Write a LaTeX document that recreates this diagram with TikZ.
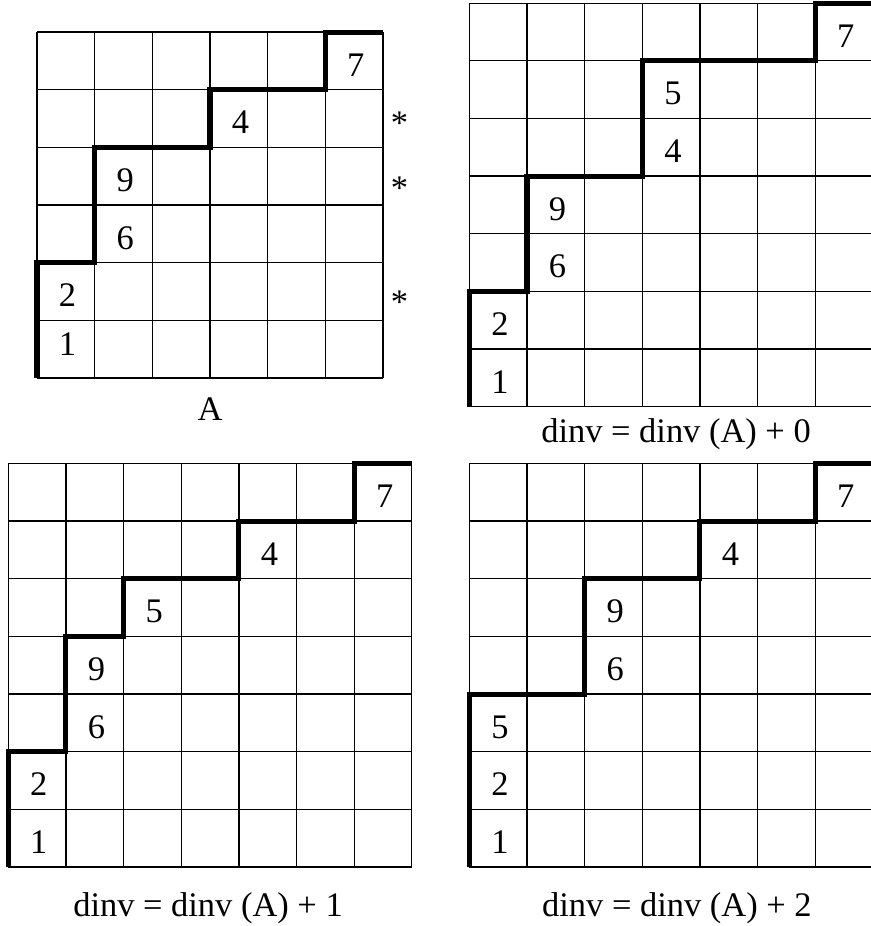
\documentclass[tikz,border=0pt]{standalone}
\usepackage{fontspec}
\setmainfont{Liberation Serif}
\usetikzlibrary{positioning}
\tikzset{
  gridln/.style ={line width=0.6pt},
  pathln/.style ={line width=2.5pt},
  num/.style    ={inner sep=0pt},
  lbl/.style    ={inner sep=0pt,anchor=base},
}
\begin{document}
\begin{tikzpicture}[x=1cm,y=1cm,font=\fontsize{17}{20}\selectfont]
  \useasboundingbox (0,0) rectangle (15.091,16.062);
  % top left: the path A, 6x6
  \begin{scope}[shift={(0.642,9.506)}]
    \draw[gridln] (0,0) grid (6,6);
    \draw[pathln] (0,0) |- (1,2) |- (3,4) |- (5,5) |- (6,6);
    \foreach \c/\r/\v in {0/0.15/1, 0/1/2, 1/2/6, 1/3/9, 3/4/4, 5/5/7}
      \node[num] (a-\v) at (\c+0.53,\r+0.43) {\v};
    \foreach \y/\k in {4.225/1, 3.089/2, 1.117/3}
      \node[lbl] (star-\k) at (6.288,\y) {*};
    \node[lbl] (labA) at (3,-0.746) {A};
  \end{scope}
  % top right: 7x7, + 0
  \begin{scope}[shift={(8.141,9.008)}]
    \draw[gridln] (0,0) grid (7,7);
    \draw[pathln] (0,0) |- (1,2) |- (3,4) |- (6,6) |- (7,7);
    \foreach \c/\r/\v in {0/0/1, 0/1/2, 1/2/6, 1/3/9, 3/4/4, 3/5/5, 6/6/7}
      \node[num] (b-\v) at (\c+0.53,\r+0.43) {\v};
    \node[lbl] (labB) at (3.585,-0.613) {dinv = dinv (A) + 0};
  \end{scope}
  % bottom left: 7x7, + 1
  \begin{scope}[shift={(0.144,1.023)}]
    \draw[gridln] (0,0) grid (7,7);
    \draw[pathln] (0,0) |- (1,2) |- (2,4) |- (4,5) |- (6,6) |- (7,7);
    \foreach \c/\r/\v in {0/0/1, 0/1/2, 1/2/6, 1/3/9, 2/4/5, 4/5/4, 6/6/7}
      \node[num] (c-\v) at (\c+0.53,\r+0.43) {\v};
    \node[lbl] (labC) at (3.464,-0.85) {dinv = dinv (A) + 1};
  \end{scope}
  % bottom right: 7x7, + 2
  \begin{scope}[shift={(8.141,1.023)}]
    \draw[gridln] (0,0) grid (7,7);
    \draw[pathln] (0,0) |- (2,3) |- (4,5) |- (6,6) |- (7,7);
    \foreach \c/\r/\v in {0/0/1, 0/1/2, 0/2/5, 2/3/6, 2/4/9, 4/5/4, 6/6/7}
      \node[num] (d-\v) at (\c+0.53,\r+0.43) {\v};
    \node[lbl] (labD) at (3.60,-0.85) {dinv = dinv (A) + 2};
  \end{scope}
\end{tikzpicture}
\end{document}
